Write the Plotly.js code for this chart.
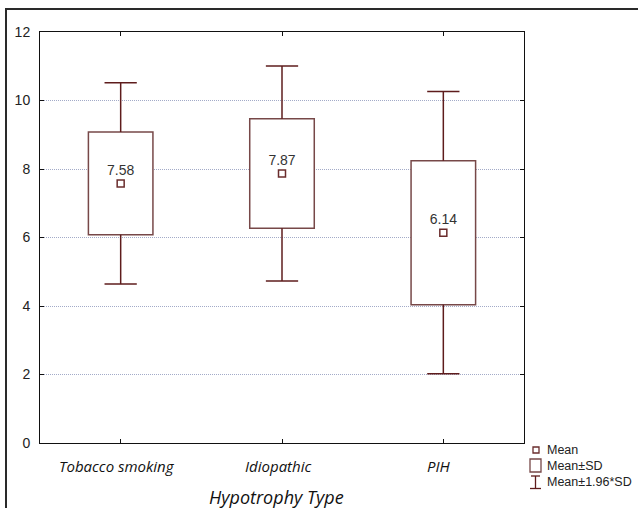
<!DOCTYPE html>
<html>
<head>
<meta charset="utf-8">
<script src="https://cdn.plot.ly/plotly-3.0.1.min.js"></script>
<style>
  html, body { margin: 0; padding: 0; background: #fff; }
  #wrap { position: relative; width: 638px; height: 508px; overflow: hidden; }
  #chart { position: absolute; left: 0; top: 0; width: 638px; height: 508px; }
  #frame { position: absolute; left: 5px; top: 8px; width: 640px; height: 510px;
           border-top: 2px solid #2a2a2a; border-left: 2px solid #2a2a2a; pointer-events: none; }
</style>
</head>
<body>
<div id="wrap">
  <div id="chart"></div>
  <div id="frame"></div>
</div>
<script>
// ---- data ----
const categories = ['Tobacco smoking', 'Idiopathic', 'PIH'];
const means      = [7.58, 7.87, 6.14];
const sdLow      = [6.08, 6.27, 4.04];   // Mean - SD
const sdHigh     = [9.08, 9.47, 8.24];   // Mean + SD
const ciLow      = [4.64, 4.73, 2.02];   // Mean - 1.96*SD
const ciHigh     = [10.52, 11.01, 10.26];// Mean + 1.96*SD
const yTicks     = [0, 2, 4, 6, 8, 10, 12];
const legendLabels = ['Mean', 'Mean\u00b1SD', 'Mean\u00b11.96*SD'];

// ---- styles ----
const boxColor = '#774848';
const whiskColor = '#5e1c1c';
const meanColor = '#6a2c2c';
const capHalf = 0.1;
const xpos = categories.map((c, i) => i);

// whisker segments
const wx = [], wy = [];
xpos.forEach((x, i) => {
  wx.push(x, x, null, x - capHalf, x + capHalf, null);
  wy.push(sdHigh[i], ciHigh[i], null, ciHigh[i], ciHigh[i], null);
  wx.push(x, x, null, x - capHalf, x + capHalf, null);
  wy.push(sdLow[i], ciLow[i], null, ciLow[i], ciLow[i], null);
});

const traces = [
  {
    type: 'bar', x: xpos, base: sdLow,
    y: sdHigh.map((h, i) => h - sdLow[i]),
    width: 0.4,
    marker: { color: '#ffffff', line: { color: boxColor, width: 1.5 } },
    hoverinfo: 'skip', showlegend: false
  },
  {
    type: 'scatter', mode: 'lines', x: wx, y: wy,
    line: { color: whiskColor, width: 1.5 },
    hoverinfo: 'skip', showlegend: false
  },
  {
    type: 'scatter', mode: 'markers+text', x: xpos, y: means,
    text: means.map(v => v.toFixed(2)),
    textposition: 'top center',
    textfont: { family: 'Liberation Sans, Arial, sans-serif', size: 14, color: '#333' },
    marker: { symbol: 'square', size: 7, color: '#ffffff', line: { color: meanColor, width: 1.5 } },
    cliponaxis: false, showlegend: false
  }
];

// pixel -> paper helpers for the hand-drawn legend
const L = 40, T = 32, R = 114, B = 65, W = 638, H = 508;
const pw = W - L - R, ph = H - T - B;
const px = v => (v - L) / pw;
const py = v => (H - B - v) / ph;

const legendY = [450, 466, 482];
const shapes = [
  { type: 'rect', xref: 'paper', yref: 'paper', x0: px(533), x1: px(539), y0: py(453), y1: py(447),
    line: { color: meanColor, width: 1.3 }, fillcolor: '#fff' },
  { type: 'rect', xref: 'paper', yref: 'paper', x0: px(530), x1: px(541), y0: py(472), y1: py(459),
    line: { color: boxColor, width: 1.3 }, fillcolor: '#fff' },
  { type: 'line', xref: 'paper', yref: 'paper', x0: px(535.5), x1: px(535.5), y0: py(488.5), y1: py(476),
    line: { color: whiskColor, width: 1.3 } },
  { type: 'line', xref: 'paper', yref: 'paper', x0: px(531), x1: px(540), y0: py(476), y1: py(476),
    line: { color: whiskColor, width: 1.3 } },
  { type: 'line', xref: 'paper', yref: 'paper', x0: px(530), x1: px(541), y0: py(488.5), y1: py(488.5),
    line: { color: whiskColor, width: 1.3 } }
];

const annotations = legendLabels.map((t, i) => ({
  text: t, xref: 'paper', yref: 'paper', x: px(545), y: py(legendY[i]),
  xanchor: 'left', yanchor: 'middle', showarrow: false,
  font: { family: 'Liberation Sans, Arial, sans-serif', size: 12.5, color: '#222' }
}));
// category labels (slightly left of the ticks, as in the reference)
categories.forEach((c, i) => annotations.push({
  text: c, xref: 'x', yref: 'paper', x: xpos[i], y: py(466), xshift: -4,
  xanchor: 'center', yanchor: 'middle', showarrow: false,
  font: { family: 'Open Sans, sans-serif', size: 15, style: 'italic', color: '#111' }
}));
annotations.push({
  text: 'Hypotrophy Type', xref: 'paper', yref: 'paper', x: px(276), y: py(497),
  xanchor: 'center', yanchor: 'middle', showarrow: false,
  font: { family: 'Open Sans, sans-serif', size: 18, style: 'italic', color: '#111' }
});

const layout = {
  width: W, height: H,
  margin: { l: L, r: R, t: T, b: B, pad: 0 },
  paper_bgcolor: '#ffffff', plot_bgcolor: '#ffffff',
  showlegend: false,
  bargap: 0,
  xaxis: {
    range: [-0.5, 2.5], tickvals: xpos, showticklabels: false,
    ticks: 'inside', ticklen: 4, tickcolor: '#111', tickwidth: 1,
    showline: true, linecolor: '#111', linewidth: 1, mirror: 'ticks',
    showgrid: false, zeroline: false, fixedrange: true
  },
  yaxis: {
    range: [0, 12], tickvals: yTicks, ticktext: yTicks.map(String),
    ticks: 'inside', ticklen: 4, tickcolor: '#111', tickwidth: 1,
    showline: true, linecolor: '#111', linewidth: 1, mirror: 'ticks',
    showgrid: true, gridcolor: '#a3abc8', griddash: '1px,1px', gridwidth: 1,
    zeroline: false, fixedrange: true,
    ticklabelstandoff: 6,
    tickfont: { family: 'Liberation Sans, Arial, sans-serif', size: 14, color: '#222' }
  },
  shapes: shapes,
  annotations: annotations
};

Plotly.newPlot('chart', traces, layout, { displayModeBar: false, staticPlot: true });
</script>
</body>
</html>
